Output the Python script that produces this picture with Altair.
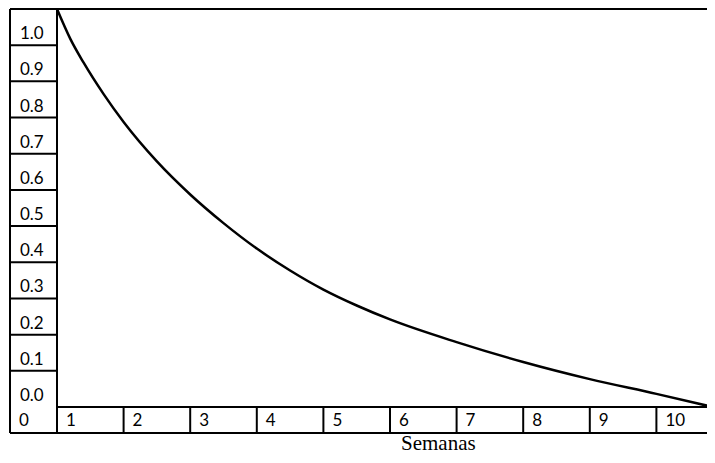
import altair as alt
import pandas as pd

# ---- data ----
y_labels = ["1.0", "0.9", "0.8", "0.7", "0.6", "0.5", "0.4", "0.3", "0.2", "0.1", "0.0"]
x_labels = ["0", "1", "2", "3", "4", "5", "6", "7", "8", "9", "10"]
weeks = [0.0, 0.2, 0.4, 0.7, 1.0, 1.5, 2.0, 2.5, 3.0, 3.5, 4.0, 4.5, 5.0, 6.0, 7.0, 8.0, 9.0, 9.85]
prob = [1.0, 0.925, 0.865, 0.786, 0.716, 0.617, 0.534, 0.462, 0.398, 0.343, 0.295, 0.255, 0.220,
        0.163, 0.113, 0.070, 0.033, 0.0]
x_title = "Semanas"

# ---- layout (scale domains) ----
PX_PER_WEEK = 66.6
PX_PER_P = 398.0
BOTTOM_ROW_PX = 26
W, H = 697, 398 + BOTTOM_ROW_PX
XMIN = -47 / PX_PER_WEEK
XMAX = XMIN + W / PX_PER_WEEK
YMAX = 1.0
YMIN = YMAX - H / PX_PER_P
N_ROWS = len(y_labels)

xs = alt.Scale(domain=[XMIN, XMAX], nice=False, zero=False)
ys = alt.Scale(domain=[YMIN, YMAX], nice=False, zero=False)

def X(f="x"):
    return alt.X(f"{f}:Q", scale=xs, axis=None)

def Y(f="y"):
    return alt.Y(f"{f}:Q", scale=ys, axis=None)

# rules (table grid)
rules = []
rules.append(dict(x=XMIN, x2=XMAX, y=YMAX, y2=YMAX))
rules.append(dict(x=XMIN, x2=XMAX, y=YMIN, y2=YMIN))
rules.append(dict(x=XMIN, x2=XMIN, y=YMIN, y2=YMAX))
rules.append(dict(x=0.0, x2=0.0, y=YMIN, y2=YMAX))
rules.append(dict(x=0.0, x2=XMAX, y=0.0, y2=0.0))
for k in range(1, N_ROWS):
    yy = 1 - k / N_ROWS
    rules.append(dict(x=XMIN, x2=0.0, y=yy, y2=yy))
for k in range(1, len(x_labels) - 1):
    rules.append(dict(x=float(k), x2=float(k), y=YMIN, y2=0.0))
rules_df = pd.DataFrame(rules)

rule_layer = alt.Chart(rules_df).mark_rule(color="black", strokeWidth=2).encode(
    x=X("x"), x2="x2:Q", y=Y("y"), y2="y2:Q"
)

ylab_df = pd.DataFrame({
    "label": y_labels,
    "x": [XMIN + 10 / PX_PER_WEEK] * len(y_labels),
    "y": [1 - (i + 1) / N_ROWS for i in range(len(y_labels))],
})
ylab_layer = alt.Chart(ylab_df).mark_text(
    align="left", baseline="alphabetic", dy=-6, font="Lato", fontSize=17, color="black"
).encode(x=X("x"), y=Y("y"), text="label:N")

xlab_df = pd.DataFrame({
    "label": x_labels,
    "x": [XMIN + 9 / PX_PER_WEEK] + [float(i) + 9 / PX_PER_WEEK for i in range(len(x_labels) - 1)],
    "y": [YMIN] * len(x_labels),
})
xlab_layer = alt.Chart(xlab_df).mark_text(
    align="left", baseline="alphabetic", dy=-7, font="Lato", fontSize=17, color="black"
).encode(x=X("x"), y=Y("y"), text="label:N")

title_df = pd.DataFrame({"label": [x_title], "x": [(401 - 57) / PX_PER_WEEK],
                         "y": [(398 - 441.3) / PX_PER_P]})
title_layer = alt.Chart(title_df).mark_text(
    align="left", baseline="alphabetic", font="Liberation Serif", fontSize=21, color="black"
).encode(x=X("x"), y=Y("y"), text="label:N")

curve_df = pd.DataFrame({"x": weeks, "y": prob})
curve_layer = alt.Chart(curve_df).mark_line(
    color="black", strokeWidth=2.5, interpolate="monotone"
).encode(x=X("x"), y=Y("y"))

chart = alt.layer(rule_layer, curve_layer, ylab_layer, xlab_layer, title_layer).properties(
    width=W, height=H,
    autosize=alt.AutoSizeParams(type="none"),
    padding={"left": 2, "top": 1, "right": 0, "bottom": 446 - 1 - H},
).configure_view(stroke=None)

chart.save("out.html", embed_options={"renderer": "svg", "actions": False})
